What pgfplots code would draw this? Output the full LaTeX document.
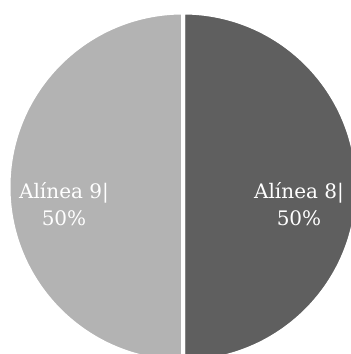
\documentclass[border=0pt]{standalone}
\usepackage{fontspec}
\setmainfont{DejaVu Serif}
\usepackage{pgfplots}
\usepackage{pgfplotstable}
\pgfplotsset{compat=1.18}
\definecolor{lightg}{HTML}{B3B3B3}
\definecolor{darkg}{HTML}{5F5F5F}
\pgfplotstableread{
label value
A8 50
A9 50
}\piedata
\begin{document}
\begin{tikzpicture}
\pgfplotstablegetelem{0}{value}\of\piedata \let\va\pgfplotsretval
\pgfplotstablegetelem{1}{value}\of\piedata \let\vb\pgfplotsretval
\pgfmathsetmacro\fa{\va/(\va+\vb)}
\pgfmathsetmacro\fb{\vb/(\va+\vb)}
\pgfmathsetmacro\amid{90-360*\fa}
\pgfmathsetmacro\aendb{\amid-360*\fb}
\begin{axis}[x=1pt,y=1pt,xmin=0,xmax=351,ymin=0,ymax=354,hide axis,anchor=south west,at={(0,0)},clip=true]
\fill[darkg,draw=white,line width=4pt] (axis cs:183,167) -- ++(90:174.5pt) arc[start angle=90,end angle=\amid,radius=174.5pt] -- cycle;
\fill[lightg,draw=white,line width=4pt] (axis cs:183,167) -- ++(\amid:174.5pt) arc[start angle=\amid,end angle=\aendb,radius=174.5pt] -- cycle;
\node[white,align=center,font=\fontsize{20}{27}\selectfont] at (axis cs:299,150) {Alínea 8|\\50\%};
\node[white,align=center,font=\fontsize{20}{27}\selectfont] at (axis cs:64,150) {Alínea 9|\\50\%};
\end{axis}
\pgfresetboundingbox
\useasboundingbox (0,0) rectangle (351pt,354pt);
\end{tikzpicture}
\end{document}
